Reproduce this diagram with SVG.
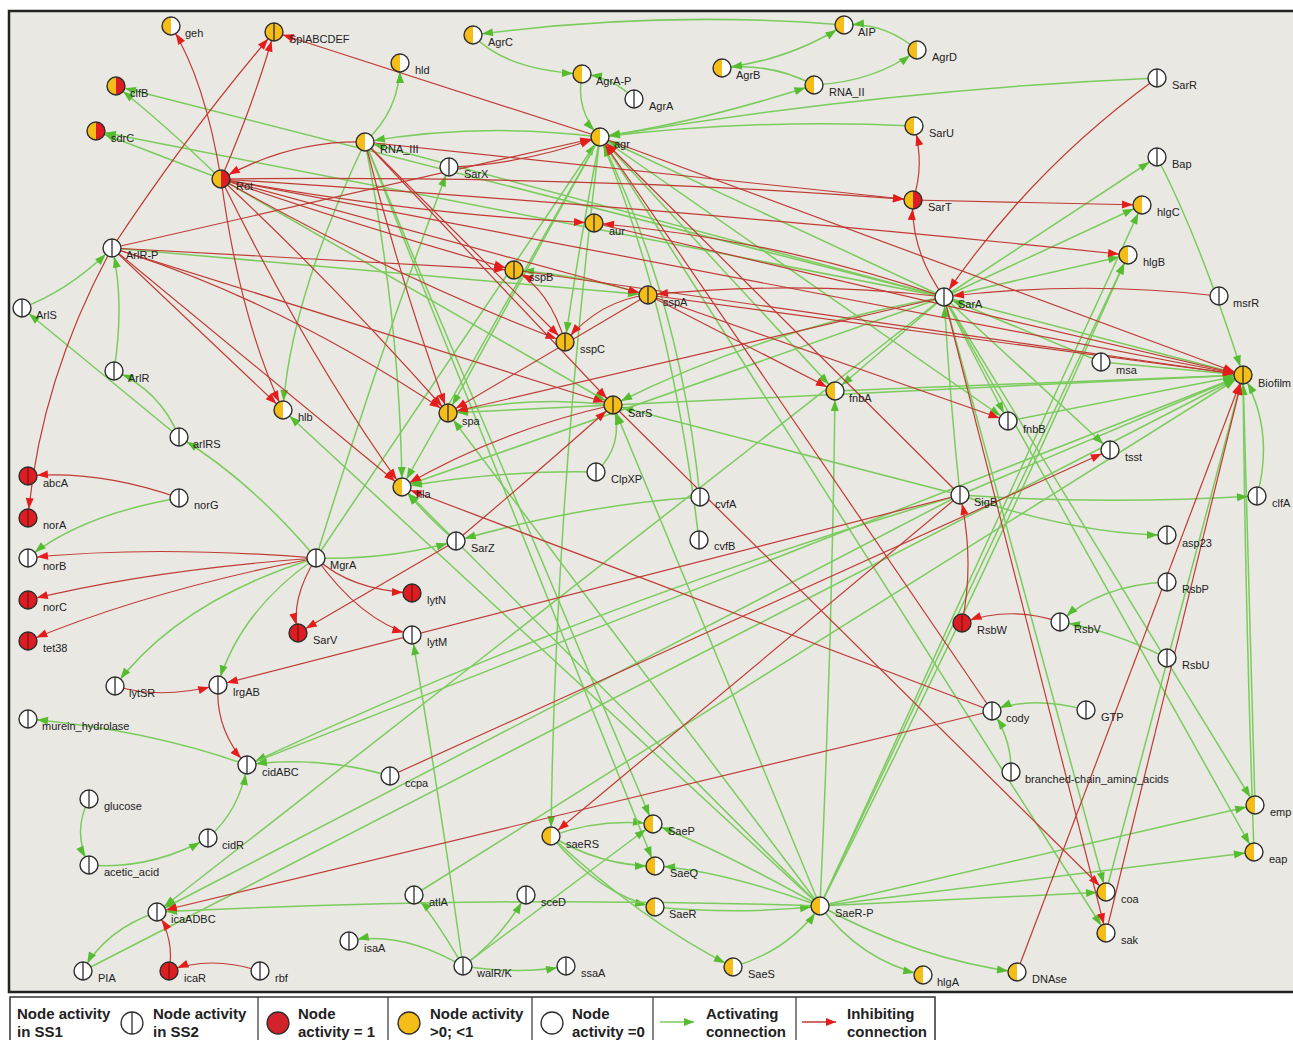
<svg xmlns="http://www.w3.org/2000/svg" xmlns:xlink="http://www.w3.org/1999/xlink" width="1293" height="1040" viewBox="0 0 1293 1040">
<style>
.g{fill:none;stroke:#7CCB5E;stroke-width:1.5;marker-end:url(#mg)}
.r{fill:none;stroke:#BF3B34;stroke-width:1.2;marker-end:url(#mr)}
.lb{font-family:"Liberation Sans",Arial,sans-serif;font-size:11px;fill:#222}
.lg{font-family:"Liberation Sans",Arial,sans-serif;font-size:15px;font-weight:bold;fill:#222}
.ol{fill:none;stroke:#2e2e2e;stroke-width:1.4}
</style>
<defs>
<marker id="mg" markerUnits="userSpaceOnUse" markerWidth="24" markerHeight="10" refX="20" refY="4" orient="auto" overflow="visible"><path d="M0,0 L11,4 L0,8 z" fill="#55BC30"/></marker>
<marker id="mr" markerUnits="userSpaceOnUse" markerWidth="24" markerHeight="10" refX="20" refY="4" orient="auto" overflow="visible"><path d="M0,0 L11,4 L0,8 z" fill="#E41C1C"/></marker>
<marker id="lgm" markerUnits="userSpaceOnUse" markerWidth="12" markerHeight="10" refX="10" refY="4" orient="auto" overflow="visible"><path d="M0,0 L10,4 L0,8 z" fill="#55BC30"/></marker>
<marker id="lrm" markerUnits="userSpaceOnUse" markerWidth="12" markerHeight="10" refX="10" refY="4" orient="auto" overflow="visible"><path d="M0,0 L10,4 L0,8 z" fill="#E41C1C"/></marker>
<g id="tYW"><path d="M0,-9A9,9 0 0 0 0,9Z" fill="#F5BD17"/><path d="M0,-9A9,9 0 0 1 0,9Z" fill="#fff"/><circle r="9" class="ol"/></g>
<g id="tYY"><circle r="9" fill="#F5BD17"/><line x1="0" y1="-9" x2="0" y2="9" stroke="#2e2e2e" stroke-width="1.3"/><circle r="9" class="ol"/></g>
<g id="tYR"><path d="M0,-9A9,9 0 0 0 0,9Z" fill="#F5BD17"/><path d="M0,-9A9,9 0 0 1 0,9Z" fill="#DC1E24"/><circle r="9" class="ol"/></g>
<g id="tRR"><circle r="9" fill="#DC1E24"/><line x1="0" y1="-9" x2="0" y2="9" stroke="#7a1010" stroke-width="1.2"/><circle r="9" class="ol"/></g>
<g id="tWW"><circle r="9" fill="#fff"/><line x1="0" y1="-9" x2="0" y2="9" stroke="#2e2e2e" stroke-width="1.3"/><circle r="9" class="ol"/></g>
</defs>
<rect x="0" y="0" width="1293" height="1040" fill="#fff"/>
<rect x="9" y="11" width="1300" height="981" fill="#E9E8E3" stroke="#222" stroke-width="2.5"/>
<g id="connectors">
<path class="g" d="M844,25 Q660,10 473,35"/>
<path class="g" d="M722,68 Q790,60 844,25"/>
<path class="g" d="M917,50 Q885,22 844,25"/>
<path class="g" d="M814,85 Q770,62 722,68"/>
<path class="g" d="M814,85 Q875,82 917,50"/>
<path class="g" d="M600,137 Q700,122 814,85"/>
<path class="g" d="M473,35 Q505,70 582,74"/>
<path class="g" d="M634,99 Q615,78 582,74"/>
<path class="g" d="M582,74 Q575,110 600,137"/>
<path class="g" d="M600,137 Q480,122 365,142"/>
<path class="g" d="M365,142 Q400,110 400,63"/>
<path class="g" d="M914,126 Q760,118 600,137"/>
<path class="g" d="M1157,78 Q880,90 600,137"/>
<path class="g" d="M944,297 L600,137"/>
<path class="g" d="M944,297 L1157,157"/>
<path class="g" d="M944,297 L1142,205"/>
<path class="g" d="M944,297 L1128,255"/>
<path class="g" d="M820,906 L1128,255"/>
<path class="g" d="M820,906 L1142,205"/>
<path class="g" d="M820,906 Q980,590 1128,255"/>
<path class="g" d="M1157,157 Q1200,240 1243,375"/>
<path class="g" d="M944,297 L1243,375"/>
<path class="g" d="M960,495 L1243,375"/>
<path class="g" d="M1101,362 L1243,375"/>
<path class="g" d="M835,391 L1243,375"/>
<path class="g" d="M1008,421 L1243,375"/>
<path class="g" d="M1257,496 Q1275,430 1243,375"/>
<path class="g" d="M1255,805 L1243,375"/>
<path class="g" d="M1254,852 Q1245,600 1243,375"/>
<path class="g" d="M83,971 L1243,375"/>
<path class="g" d="M613,405 L1243,375"/>
<path class="g" d="M600,137 L835,391"/>
<path class="g" d="M600,137 L1008,421"/>
<path class="g" d="M960,495 Q1100,505 1257,496"/>
<path class="g" d="M960,495 Q1080,535 1167,535"/>
<path class="g" d="M960,495 Q950,400 944,297"/>
<path class="g" d="M1167,582 Q1100,585 1060,622"/>
<path class="g" d="M1167,658 Q1110,630 1060,622"/>
<path class="g" d="M1086,710 Q1030,695 992,711"/>
<path class="g" d="M1011,772 Q1012,740 992,711"/>
<path class="g" d="M944,297 L835,391"/>
<path class="g" d="M820,906 Q832,650 835,391"/>
<path class="g" d="M944,297 L1008,421"/>
<path class="g" d="M944,297 L1110,450"/>
<path class="g" d="M944,297 L1255,805"/>
<path class="g" d="M944,297 L1254,852"/>
<path class="g" d="M944,297 L1106,892"/>
<path class="g" d="M600,137 L1106,933"/>
<path class="g" d="M820,906 L1106,892"/>
<path class="g" d="M820,906 L1255,805"/>
<path class="g" d="M820,906 L1254,852"/>
<path class="g" d="M820,906 Q860,960 923,975"/>
<path class="g" d="M820,906 Q920,960 1017,972"/>
<path class="g" d="M820,906 Q720,850 653,824"/>
<path class="g" d="M820,906 Q720,870 655,866"/>
<path class="g" d="M655,907 Q740,915 820,906"/>
<path class="g" d="M733,967 Q790,950 820,906"/>
<path class="g" d="M551,836 Q600,818 653,824"/>
<path class="g" d="M551,836 Q600,866 655,866"/>
<path class="g" d="M551,836 Q600,895 655,907"/>
<path class="g" d="M551,836 Q640,920 733,967"/>
<path class="g" d="M600,137 Q555,500 551,836"/>
<path class="g" d="M365,142 L653,824"/>
<path class="g" d="M365,142 L655,866"/>
<path class="g" d="M463,966 Q400,930 349,941"/>
<path class="g" d="M463,966 Q430,910 414,895"/>
<path class="g" d="M463,966 Q500,940 526,895"/>
<path class="g" d="M463,966 Q520,975 566,966"/>
<path class="g" d="M463,966 Q440,800 412,635"/>
<path class="g" d="M463,966 L653,824"/>
<path class="g" d="M820,906 Q500,895 157,912"/>
<path class="g" d="M944,297 L157,912"/>
<path class="g" d="M960,495 L157,912"/>
<path class="g" d="M960,495 Q600,600 247,765"/>
<path class="g" d="M390,776 Q320,755 247,765"/>
<path class="g" d="M208,838 Q240,810 247,765"/>
<path class="g" d="M89,865 Q150,870 208,838"/>
<path class="g" d="M89,799 Q72,832 89,865"/>
<path class="g" d="M247,765 Q150,730 28,719"/>
<path class="g" d="M157,912 Q105,930 83,971"/>
<path class="g" d="M316,558 Q180,600 115,686"/>
<path class="g" d="M316,558 Q240,610 218,685"/>
<path class="g" d="M316,558 Q250,480 179,437"/>
<path class="g" d="M316,558 Q390,560 456,541"/>
<path class="g" d="M316,558 Q380,350 449,167"/>
<path class="g" d="M316,558 L600,137"/>
<path class="g" d="M179,437 Q160,390 114,371"/>
<path class="g" d="M179,437 L22,308"/>
<path class="g" d="M22,308 Q70,290 112,248"/>
<path class="g" d="M114,371 Q125,300 112,248"/>
<path class="g" d="M179,498 Q80,515 28,558"/>
<path class="g" d="M456,541 Q430,520 402,487"/>
<path class="g" d="M596,472 Q500,470 402,487"/>
<path class="g" d="M596,472 Q625,445 613,405"/>
<path class="g" d="M700,497 Q580,505 456,541"/>
<path class="g" d="M700,497 Q680,300 600,137"/>
<path class="g" d="M699,540 Q670,300 600,137"/>
<path class="g" d="M613,405 Q530,395 448,413"/>
<path class="g" d="M613,405 L448,413"/>
<path class="g" d="M221,179 L613,405"/>
<path class="g" d="M365,142 Q400,320 402,487"/>
<path class="g" d="M365,142 Q290,300 283,410"/>
<path class="g" d="M600,137 L448,413"/>
<path class="g" d="M600,137 Q580,240 565,342"/>
<path class="g" d="M600,137 L402,487"/>
<path class="g" d="M820,906 L448,413"/>
<path class="g" d="M820,906 L613,405"/>
<path class="g" d="M820,906 L283,410"/>
<path class="g" d="M820,906 L402,487"/>
<path class="g" d="M648,295 Q580,275 514,270"/>
<path class="g" d="M221,179 Q160,120 116,86"/>
<path class="g" d="M944,297 L116,86"/>
<path class="g" d="M221,179 L96,131"/>
<path class="g" d="M944,297 L96,131"/>
<path class="g" d="M112,248 L648,295"/>
<path class="g" d="M944,297 Q760,330 613,405"/>
<path class="g" d="M960,495 L613,405"/>
<path class="g" d="M1101,362 L944,297"/>
<path class="g" d="M247,765 L1243,375"/>
<path class="g" d="M414,895 L1243,375"/>
<path class="g" d="M944,297 L402,487"/>
<path class="g" d="M944,297 L365,142"/>
<path class="g" d="M1106,892 L1243,375"/>
<path class="r" d="M221,179 Q205,80 171,26"/>
<path class="r" d="M221,179 Q255,100 274,32"/>
<path class="r" d="M112,248 Q190,130 274,32"/>
<path class="r" d="M600,137 L274,32"/>
<path class="r" d="M221,179 Q240,320 283,410"/>
<path class="r" d="M221,179 Q310,360 402,487"/>
<path class="r" d="M221,179 Q330,280 448,413"/>
<path class="r" d="M221,179 Q370,230 514,270"/>
<path class="r" d="M221,179 L648,295"/>
<path class="r" d="M221,179 Q400,280 565,342"/>
<path class="r" d="M221,179 Q420,215 594,223"/>
<path class="r" d="M221,179 Q600,175 913,200"/>
<path class="r" d="M221,179 Q700,210 1128,255"/>
<path class="r" d="M221,179 L1243,375"/>
<path class="r" d="M365,142 Q290,140 221,179"/>
<path class="r" d="M112,248 L283,410"/>
<path class="r" d="M112,248 L402,487"/>
<path class="r" d="M112,248 Q280,300 448,413"/>
<path class="r" d="M112,248 L514,270"/>
<path class="r" d="M112,248 L600,137"/>
<path class="r" d="M112,248 L613,405"/>
<path class="r" d="M112,248 Q40,380 28,518"/>
<path class="r" d="M179,498 Q100,470 28,476"/>
<path class="r" d="M316,558 Q150,545 28,558"/>
<path class="r" d="M316,558 Q150,570 28,600"/>
<path class="r" d="M316,558 Q150,590 28,641"/>
<path class="r" d="M316,558 Q290,600 298,633"/>
<path class="r" d="M316,558 Q350,590 412,593"/>
<path class="r" d="M316,558 Q360,620 412,635"/>
<path class="r" d="M456,541 L298,633"/>
<path class="r" d="M456,541 Q540,470 613,405"/>
<path class="r" d="M449,167 Q520,165 600,137"/>
<path class="r" d="M365,142 L913,200"/>
<path class="r" d="M365,142 Q400,280 448,413"/>
<path class="r" d="M365,142 L613,405"/>
<path class="r" d="M365,142 L565,342"/>
<path class="r" d="M913,200 Q925,165 914,126"/>
<path class="r" d="M944,297 Q910,250 913,200"/>
<path class="r" d="M913,200 L1142,205"/>
<path class="r" d="M1157,78 Q1030,170 944,297"/>
<path class="r" d="M1219,296 Q1080,280 944,297"/>
<path class="r" d="M944,297 Q800,280 648,295"/>
<path class="r" d="M944,297 Q780,240 594,223"/>
<path class="r" d="M944,297 L448,413"/>
<path class="r" d="M648,295 Q600,300 565,342"/>
<path class="r" d="M565,342 Q550,290 514,270"/>
<path class="r" d="M648,295 L448,413"/>
<path class="r" d="M613,405 Q500,430 402,487"/>
<path class="r" d="M648,295 L835,391"/>
<path class="r" d="M648,295 L1008,421"/>
<path class="r" d="M600,137 L1243,375"/>
<path class="r" d="M648,295 L1243,375"/>
<path class="r" d="M594,223 L1243,375"/>
<path class="r" d="M514,270 L1243,375"/>
<path class="r" d="M1106,933 L1243,375"/>
<path class="r" d="M1017,972 L1243,375"/>
<path class="r" d="M962,623 Q975,560 960,495"/>
<path class="r" d="M1060,622 Q1010,605 962,623"/>
<path class="r" d="M169,971 Q175,940 157,912"/>
<path class="r" d="M260,971 Q210,955 169,971"/>
<path class="r" d="M115,686 Q160,700 218,685"/>
<path class="r" d="M218,685 Q215,730 247,765"/>
<path class="r" d="M992,711 L157,912"/>
<path class="r" d="M992,711 L402,487"/>
<path class="r" d="M992,711 L600,137"/>
<path class="r" d="M960,495 L551,836"/>
<path class="r" d="M960,495 L218,685"/>
<path class="r" d="M390,776 L1110,450"/>
<path class="r" d="M613,405 L1106,892"/>
<path class="r" d="M944,297 L1106,933"/>
<path class="r" d="M960,495 L600,137"/>
</g>
<g id="nodes">
<g id="node-geh" transform="translate(171,26)"><use href="#tYW"/><text class="lb" x="14" y="11">geh</text></g>
<g id="node-SplABCDEF" transform="translate(274,32)"><use href="#tYY"/><text class="lb" x="15" y="11">SplABCDEF</text></g>
<g id="node-clfB" transform="translate(116,86)"><use href="#tYR"/><text class="lb" x="14" y="11">clfB</text></g>
<g id="node-sdrC" transform="translate(96,131)"><use href="#tYR"/><text class="lb" x="15" y="11">sdrC</text></g>
<g id="node-Rot" transform="translate(221,179)"><use href="#tYR"/><text class="lb" x="15" y="11">Rot</text></g>
<g id="node-ArlR-P" transform="translate(112,248)"><use href="#tWW"/><text class="lb" x="14" y="11">ArlR-P</text></g>
<g id="node-ArlS" transform="translate(22,308)"><use href="#tWW"/><text class="lb" x="14" y="11">ArlS</text></g>
<g id="node-ArlR" transform="translate(114,371)"><use href="#tWW"/><text class="lb" x="14" y="11">ArlR</text></g>
<g id="node-arlRS" transform="translate(179,437)"><use href="#tWW"/><text class="lb" x="14" y="11">arlRS</text></g>
<g id="node-hlb" transform="translate(283,410)"><use href="#tYW"/><text class="lb" x="15" y="11">hlb</text></g>
<g id="node-abcA" transform="translate(28,476)"><use href="#tRR"/><text class="lb" x="15" y="11">abcA</text></g>
<g id="node-norA" transform="translate(28,518)"><use href="#tRR"/><text class="lb" x="15" y="11">norA</text></g>
<g id="node-norG" transform="translate(179,498)"><use href="#tWW"/><text class="lb" x="15" y="11">norG</text></g>
<g id="node-norB" transform="translate(28,558)"><use href="#tWW"/><text class="lb" x="15" y="12">norB</text></g>
<g id="node-norC" transform="translate(28,600)"><use href="#tRR"/><text class="lb" x="15" y="11">norC</text></g>
<g id="node-tet38" transform="translate(28,641)"><use href="#tRR"/><text class="lb" x="15" y="11">tet38</text></g>
<g id="node-MgrA" transform="translate(316,558)"><use href="#tWW"/><text class="lb" x="14" y="11">MgrA</text></g>
<g id="node-SarV" transform="translate(298,633)"><use href="#tRR"/><text class="lb" x="15" y="11">SarV</text></g>
<g id="node-lytN" transform="translate(412,593)"><use href="#tRR"/><text class="lb" x="15" y="11">lytN</text></g>
<g id="node-lytM" transform="translate(412,635)"><use href="#tWW"/><text class="lb" x="15" y="11">lytM</text></g>
<g id="node-SarZ" transform="translate(456,541)"><use href="#tWW"/><text class="lb" x="15" y="11">SarZ</text></g>
<g id="node-hla" transform="translate(402,487)"><use href="#tYW"/><text class="lb" x="14" y="11">hla</text></g>
<g id="node-spa" transform="translate(448,413)"><use href="#tYY"/><text class="lb" x="14" y="12">spa</text></g>
<g id="node-SarS" transform="translate(613,405)"><use href="#tYY"/><text class="lb" x="15" y="12">SarS</text></g>
<g id="node-ClpXP" transform="translate(596,472)"><use href="#tWW"/><text class="lb" x="15" y="11">ClpXP</text></g>
<g id="node-cvfA" transform="translate(700,497)"><use href="#tWW"/><text class="lb" x="15" y="11">cvfA</text></g>
<g id="node-cvfB" transform="translate(699,540)"><use href="#tWW"/><text class="lb" x="15" y="10">cvfB</text></g>
<g id="node-sspC" transform="translate(565,342)"><use href="#tYY"/><text class="lb" x="15" y="11">sspC</text></g>
<g id="node-sspB" transform="translate(514,270)"><use href="#tYY"/><text class="lb" x="15" y="11">sspB</text></g>
<g id="node-sspA" transform="translate(648,295)"><use href="#tYY"/><text class="lb" x="15" y="11">sspA</text></g>
<g id="node-aur" transform="translate(594,223)"><use href="#tYY"/><text class="lb" x="15" y="12">aur</text></g>
<g id="node-agr" transform="translate(600,137)"><use href="#tYW"/><text class="lb" x="14" y="11">agr</text></g>
<g id="node-RNA_III" transform="translate(365,142)"><use href="#tYW"/><text class="lb" x="15" y="11">RNA_III</text></g>
<g id="node-SarX" transform="translate(449,167)"><use href="#tWW"/><text class="lb" x="15" y="11">SarX</text></g>
<g id="node-hld" transform="translate(400,63)"><use href="#tYW"/><text class="lb" x="15" y="11">hld</text></g>
<g id="node-AgrC" transform="translate(473,35)"><use href="#tYW"/><text class="lb" x="15" y="11">AgrC</text></g>
<g id="node-AgrA-P" transform="translate(582,74)"><use href="#tYW"/><text class="lb" x="14" y="11">AgrA-P</text></g>
<g id="node-AgrA" transform="translate(634,99)"><use href="#tWW"/><text class="lb" x="15" y="11">AgrA</text></g>
<g id="node-AIP" transform="translate(844,25)"><use href="#tYW"/><text class="lb" x="14" y="11">AIP</text></g>
<g id="node-AgrD" transform="translate(917,50)"><use href="#tYW"/><text class="lb" x="15" y="11">AgrD</text></g>
<g id="node-AgrB" transform="translate(722,68)"><use href="#tYW"/><text class="lb" x="14" y="11">AgrB</text></g>
<g id="node-RNA_II" transform="translate(814,85)"><use href="#tYW"/><text class="lb" x="15" y="11">RNA_II</text></g>
<g id="node-SarU" transform="translate(914,126)"><use href="#tYW"/><text class="lb" x="15" y="11">SarU</text></g>
<g id="node-SarT" transform="translate(913,200)"><use href="#tYR"/><text class="lb" x="15" y="11">SarT</text></g>
<g id="node-SarR" transform="translate(1157,78)"><use href="#tWW"/><text class="lb" x="15" y="11">SarR</text></g>
<g id="node-Bap" transform="translate(1157,157)"><use href="#tWW"/><text class="lb" x="15" y="11">Bap</text></g>
<g id="node-hlgC" transform="translate(1142,205)"><use href="#tYW"/><text class="lb" x="15" y="11">hlgC</text></g>
<g id="node-hlgB" transform="translate(1128,255)"><use href="#tYW"/><text class="lb" x="15" y="11">hlgB</text></g>
<g id="node-SarA" transform="translate(944,297)"><use href="#tWW"/><text class="lb" x="14" y="11">SarA</text></g>
<g id="node-msrR" transform="translate(1219,296)"><use href="#tWW"/><text class="lb" x="14" y="11">msrR</text></g>
<g id="node-msa" transform="translate(1101,362)"><use href="#tWW"/><text class="lb" x="15" y="12">msa</text></g>
<g id="node-Biofilm" transform="translate(1243,375)"><use href="#tYY"/><text class="lb" x="15" y="12">Biofilm</text></g>
<g id="node-fnbA" transform="translate(835,391)"><use href="#tYW"/><text class="lb" x="14" y="11">fnbA</text></g>
<g id="node-fnbB" transform="translate(1008,421)"><use href="#tWW"/><text class="lb" x="15" y="12">fnbB</text></g>
<g id="node-tsst" transform="translate(1110,450)"><use href="#tWW"/><text class="lb" x="15" y="11">tsst</text></g>
<g id="node-SigB" transform="translate(960,495)"><use href="#tWW"/><text class="lb" x="14" y="11">SigB</text></g>
<g id="node-clfA" transform="translate(1257,496)"><use href="#tWW"/><text class="lb" x="15" y="11">clfA</text></g>
<g id="node-asp23" transform="translate(1167,535)"><use href="#tWW"/><text class="lb" x="15" y="12">asp23</text></g>
<g id="node-RsbP" transform="translate(1167,582)"><use href="#tWW"/><text class="lb" x="15" y="11">RsbP</text></g>
<g id="node-RsbW" transform="translate(962,623)"><use href="#tRR"/><text class="lb" x="15" y="11">RsbW</text></g>
<g id="node-RsbV" transform="translate(1060,622)"><use href="#tWW"/><text class="lb" x="14" y="11">RsbV</text></g>
<g id="node-RsbU" transform="translate(1167,658)"><use href="#tWW"/><text class="lb" x="15" y="11">RsbU</text></g>
<g id="node-cody" transform="translate(992,711)"><use href="#tWW"/><text class="lb" x="14" y="11">cody</text></g>
<g id="node-GTP" transform="translate(1086,710)"><use href="#tWW"/><text class="lb" x="15" y="11">GTP</text></g>
<g id="node-branched-chain_amino_acids" transform="translate(1011,772)"><use href="#tWW"/><text class="lb" x="14" y="11">branched-chain_amino_acids</text></g>
<g id="node-emp" transform="translate(1255,805)"><use href="#tYW"/><text class="lb" x="15" y="11">emp</text></g>
<g id="node-eap" transform="translate(1254,852)"><use href="#tYW"/><text class="lb" x="15" y="11">eap</text></g>
<g id="node-coa" transform="translate(1106,892)"><use href="#tYW"/><text class="lb" x="15" y="11">coa</text></g>
<g id="node-sak" transform="translate(1106,933)"><use href="#tYW"/><text class="lb" x="15" y="11">sak</text></g>
<g id="node-DNAse" transform="translate(1017,972)"><use href="#tYW"/><text class="lb" x="15" y="11">DNAse</text></g>
<g id="node-hlgA" transform="translate(923,975)"><use href="#tYW"/><text class="lb" x="14" y="11">hlgA</text></g>
<g id="node-SaeR-P" transform="translate(820,906)"><use href="#tYW"/><text class="lb" x="15" y="11">SaeR-P</text></g>
<g id="node-SaeS" transform="translate(733,967)"><use href="#tYW"/><text class="lb" x="15" y="11">SaeS</text></g>
<g id="node-SaeR" transform="translate(655,907)"><use href="#tYW"/><text class="lb" x="14" y="11">SaeR</text></g>
<g id="node-SaeQ" transform="translate(655,866)"><use href="#tYW"/><text class="lb" x="15" y="11">SaeQ</text></g>
<g id="node-SaeP" transform="translate(653,824)"><use href="#tYW"/><text class="lb" x="15" y="11">SaeP</text></g>
<g id="node-saeRS" transform="translate(551,836)"><use href="#tYW"/><text class="lb" x="15" y="12">saeRS</text></g>
<g id="node-sceD" transform="translate(526,895)"><use href="#tWW"/><text class="lb" x="15" y="11">sceD</text></g>
<g id="node-atlA" transform="translate(414,895)"><use href="#tWW"/><text class="lb" x="15" y="11">atlA</text></g>
<g id="node-isaA" transform="translate(349,941)"><use href="#tWW"/><text class="lb" x="15" y="11">isaA</text></g>
<g id="node-walR-K" transform="translate(463,966)"><use href="#tWW"/><text class="lb" x="14" y="11">walR/K</text></g>
<g id="node-ssaA" transform="translate(566,966)"><use href="#tWW"/><text class="lb" x="15" y="11">ssaA</text></g>
<g id="node-ccpa" transform="translate(390,776)"><use href="#tWW"/><text class="lb" x="15" y="11">ccpa</text></g>
<g id="node-cidABC" transform="translate(247,765)"><use href="#tWW"/><text class="lb" x="15" y="11">cidABC</text></g>
<g id="node-murein_hydrolase" transform="translate(28,719)"><use href="#tWW"/><text class="lb" x="14" y="11">murein_hydrolase</text></g>
<g id="node-lytSR" transform="translate(115,686)"><use href="#tWW"/><text class="lb" x="14" y="11">lytSR</text></g>
<g id="node-lrgAB" transform="translate(218,685)"><use href="#tWW"/><text class="lb" x="15" y="11">lrgAB</text></g>
<g id="node-glucose" transform="translate(89,799)"><use href="#tWW"/><text class="lb" x="15" y="11">glucose</text></g>
<g id="node-acetic_acid" transform="translate(89,865)"><use href="#tWW"/><text class="lb" x="15" y="11">acetic_acid</text></g>
<g id="node-cidR" transform="translate(208,838)"><use href="#tWW"/><text class="lb" x="14" y="11">cidR</text></g>
<g id="node-icaADBC" transform="translate(157,912)"><use href="#tWW"/><text class="lb" x="14" y="11">icaADBC</text></g>
<g id="node-PIA" transform="translate(83,971)"><use href="#tWW"/><text class="lb" x="15" y="11">PIA</text></g>
<g id="node-icaR" transform="translate(169,971)"><use href="#tRR"/><text class="lb" x="15" y="11">icaR</text></g>
<g id="node-rbf" transform="translate(260,971)"><use href="#tWW"/><text class="lb" x="15" y="11">rbf</text></g>
</g>
<g id="legend">
<rect x="10" y="997" width="925" height="50" fill="#fff" stroke="#333" stroke-width="1.5"/>
<line x1="258" y1="997" x2="258" y2="1040" stroke="#333" stroke-width="1.2"/>
<line x1="388" y1="997" x2="388" y2="1040" stroke="#333" stroke-width="1.2"/>
<line x1="532" y1="997" x2="532" y2="1040" stroke="#333" stroke-width="1.2"/>
<line x1="653" y1="997" x2="653" y2="1040" stroke="#333" stroke-width="1.2"/>
<line x1="796" y1="997" x2="796" y2="1040" stroke="#333" stroke-width="1.2"/>
<text class="lg" x="17" y="1019">Node activity</text><text class="lg" x="17" y="1037">in SS1</text>
<circle cx="132" cy="1023" r="11" fill="#fff" stroke="#2e2e2e" stroke-width="1.3"/><line x1="132" y1="1012" x2="132" y2="1034" stroke="#2e2e2e" stroke-width="1.3"/>
<text class="lg" x="153" y="1019">Node activity</text><text class="lg" x="153" y="1037">in SS2</text>
<circle cx="278" cy="1023" r="11" fill="#D2222A" stroke="#2e2e2e" stroke-width="1.3"/>
<text class="lg" x="298" y="1019">Node</text><text class="lg" x="298" y="1037">activity = 1</text>
<circle cx="409" cy="1023" r="11" fill="#F5BD17" stroke="#2e2e2e" stroke-width="1.3"/>
<text class="lg" x="430" y="1019">Node activity</text><text class="lg" x="430" y="1037">&gt;0; &lt;1</text>
<circle cx="552" cy="1023" r="11" fill="#fff" stroke="#2e2e2e" stroke-width="1.3"/>
<text class="lg" x="572" y="1019">Node</text><text class="lg" x="572" y="1037">activity =0</text>
<line x1="660" y1="1022" x2="694" y2="1022" stroke="#7CCB5E" stroke-width="1.5" marker-end="url(#lgm)"/>
<text class="lg" x="706" y="1019">Activating</text><text class="lg" x="706" y="1037">connection</text>
<line x1="802" y1="1022" x2="836" y2="1022" stroke="#BF3B34" stroke-width="1.5" marker-end="url(#lrm)"/>
<text class="lg" x="847" y="1019">Inhibiting</text><text class="lg" x="847" y="1037">connection</text>
</g>
</svg>
